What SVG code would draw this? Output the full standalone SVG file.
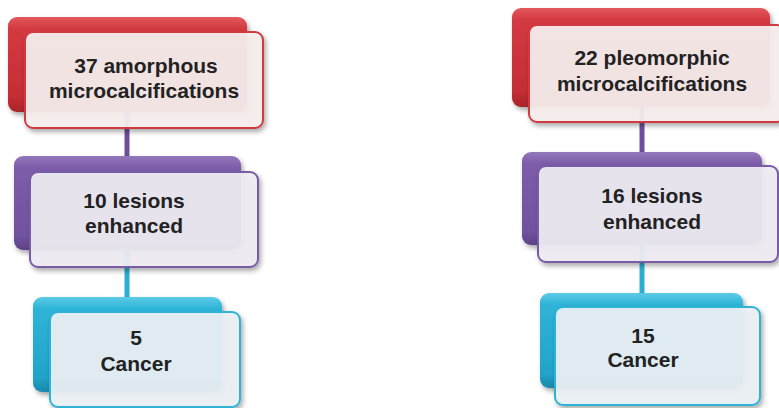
<svg xmlns="http://www.w3.org/2000/svg" width="779" height="408" viewBox="0 0 779 408">
<defs>
<linearGradient id="gRed" x1="0" y1="0" x2="0" y2="1">
<stop offset="0" stop-color="#e2585d"/><stop offset="0.12" stop-color="#d33a41"/><stop offset="0.85" stop-color="#c42d34"/><stop offset="1" stop-color="#a8242a"/>
</linearGradient>
<linearGradient id="gPur" x1="0" y1="0" x2="0" y2="1">
<stop offset="0" stop-color="#9478bb"/><stop offset="0.12" stop-color="#7d5daa"/><stop offset="0.85" stop-color="#72529f"/><stop offset="1" stop-color="#5d4288"/>
</linearGradient>
<linearGradient id="gCya" x1="0" y1="0" x2="0" y2="1">
<stop offset="0" stop-color="#5ccbe6"/><stop offset="0.12" stop-color="#2fb4d8"/><stop offset="0.85" stop-color="#22a3c8"/><stop offset="1" stop-color="#1a88ab"/>
</linearGradient>
<filter id="sh" x="-10%" y="-10%" width="125%" height="130%">
<feGaussianBlur in="SourceAlpha" stdDeviation="2.5"/>
<feOffset dx="2" dy="3" result="b"/>
<feComponentTransfer><feFuncA type="linear" slope="0.35"/></feComponentTransfer>
<feMerge><feMergeNode/><feMergeNode in="SourceGraphic"/></feMerge>
</filter>
</defs>
<style>
.t{font-family:"Liberation Sans",Arial,sans-serif;font-weight:bold;font-size:21px;fill:#222;text-anchor:middle}
.fr{stroke-width:2;fill-opacity:0.93}
.red{stroke:#cf3a40;fill:#f6efee}
.pur{stroke:#7a5ba6;fill:#efedf3}
.cya{stroke:#2fb2d6;fill:#ebf1f5}
</style>
<g id="connectors">
<line x1="127" y1="112" x2="127" y2="158" stroke="#6d4f9c" stroke-width="5"/>
<line x1="127" y1="250" x2="127" y2="298" stroke="#2aaed2" stroke-width="5"/>
<line x1="642" y1="107" x2="642" y2="154" stroke="#6d4f9c" stroke-width="5"/>
<line x1="642" y1="245" x2="642" y2="294" stroke="#2aaed2" stroke-width="5"/>
</g>
<g id="node-l1">
<rect x="8" y="17" width="239" height="95" rx="9" fill="url(#gRed)" filter="url(#sh)"/>
<rect class="fr red" x="25" y="32" width="238" height="96" rx="8" filter="url(#sh)"/>
<text class="t" x="146" y="73">37 amorphous</text>
<text class="t" x="144" y="98">microcalcifications</text>
</g>
<g id="node-l2">
<rect x="14" y="156" width="227" height="94" rx="9" fill="url(#gPur)" filter="url(#sh)"/>
<rect class="fr pur" x="30" y="172" width="228" height="95" rx="8" filter="url(#sh)"/>
<text class="t" x="134" y="208">10 lesions</text>
<text class="t" x="134" y="233">enhanced</text>
</g>
<g id="node-l3">
<rect x="33" y="297" width="189" height="95" rx="9" fill="url(#gCya)" filter="url(#sh)"/>
<rect class="fr cya" x="50" y="312" width="190" height="95" rx="8" filter="url(#sh)"/>
<text class="t" x="136" y="345">5</text>
<text class="t" x="136" y="371">Cancer</text>
</g>
<g id="node-r1">
<rect x="512" y="8" width="258" height="99" rx="9" fill="url(#gRed)" filter="url(#sh)"/>
<rect class="fr red" x="529" y="25" width="256" height="97" rx="8" filter="url(#sh)"/>
<text class="t" x="652" y="65">22 pleomorphic</text>
<text class="t" x="652" y="91">microcalcifications</text>
</g>
<g id="node-r2">
<rect x="522" y="152" width="240" height="93" rx="9" fill="url(#gPur)" filter="url(#sh)"/>
<rect class="fr pur" x="538" y="166" width="240" height="96" rx="8" filter="url(#sh)"/>
<text class="t" x="652" y="203">16 lesions</text>
<text class="t" x="652" y="229">enhanced</text>
</g>
<g id="node-r3">
<rect x="540" y="293" width="203" height="95" rx="9" fill="url(#gCya)" filter="url(#sh)"/>
<rect class="fr cya" x="555" y="307" width="205" height="98" rx="8" filter="url(#sh)"/>
<text class="t" x="643" y="343">15</text>
<text class="t" x="643" y="367">Cancer</text>
</g>
</svg>
